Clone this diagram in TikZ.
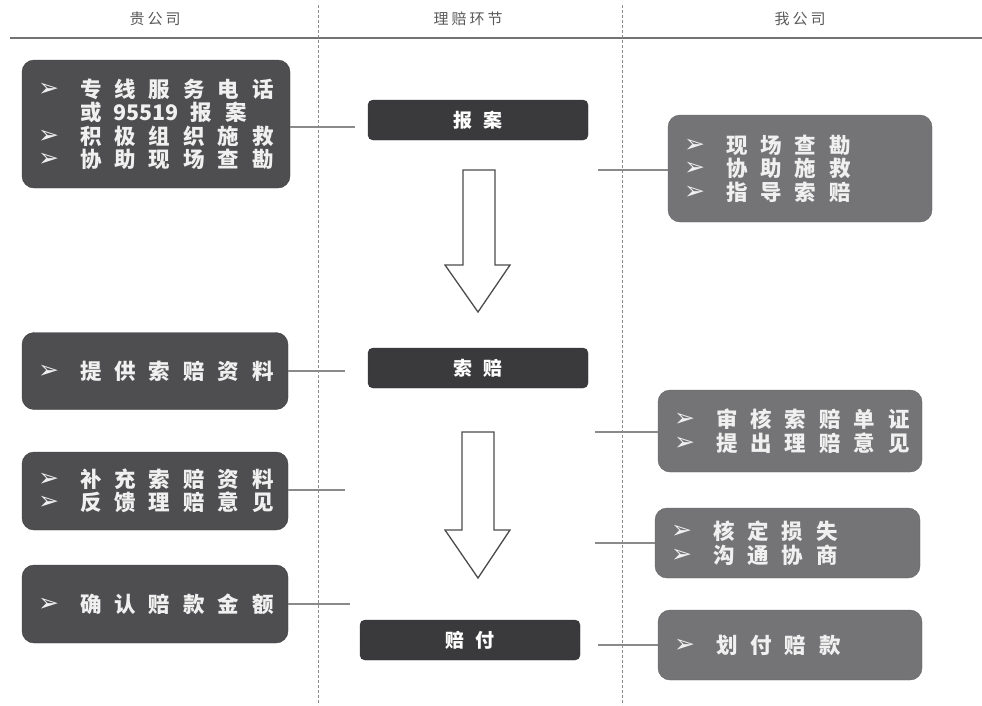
\documentclass[tikz,border=0pt]{standalone}
\usepackage{fontspec}
\newfontfamily\cjk[LetterSpace=60]{Noto Sans CJK SC}
\newfontfamily\cjkplain{Noto Sans CJK SC}
\newfontfamily\cjkhead[LetterSpace=20]{Noto Sans CJK SC}
\newfontfamily\symf{DejaVu Sans}
\definecolor{lboxc}{HTML}{4E4E50}
\definecolor{mboxc}{HTML}{3A3A3C}
\definecolor{rboxc}{HTML}{747476}
\definecolor{linec}{HTML}{8A8A8A}
\newcommand\itm[1]{\makebox[42pt][l]{\fontsize{25}{19}\selectfont\symf\mdseries\raisebox{1pt}{➢}}#1}
\newcommand\noitm[1]{\hspace*{42pt}#1}
\tikzset{
  box/.style={rounded corners=12pt, text=white!94!black, align=left,
    font=\cjk\bfseries\fontsize{21.5}{23.5}\selectfont, inner xsep=16pt, inner ysep=0pt},
  lbox/.style={box, fill=lboxc, draw=lboxc!80!black},
  rbox/.style={box, fill=rboxc, draw=rboxc!85!black},
  mbox/.style={rounded corners=5pt, fill=mboxc, draw=mboxc!80!black, text=white,
    font=\cjk\bfseries\fontsize{19}{21}\selectfont, align=center,
    minimum width=220pt, minimum height=40pt, inner sep=0pt},
  conn/.style={draw=linec, line width=1.1pt},
  vline/.style={draw=linec, line width=0.9pt, densely dashed},
  hollow/.style={draw=black!70, line width=1.3pt, fill=white, line join=miter},
  head/.style={text=black!65, font=\cjkhead\fontsize{15}{15}\selectfont}
}
\begin{document}
\begin{tikzpicture}[x=1pt,y=-1pt]
\useasboundingbox (0,0) rectangle (982,705);
% header
\node[head] (h1) at (155,19) {贵公司};
\node[head] (h2) at (468,19) {理赔环节};
\node[head] (h3) at (800,19) {我公司};
\draw[draw=black!55, line width=1.8pt] (10,38) -- (982,38);
\draw[vline] (318,5) -- (318,705);
\draw[vline] (622,5) -- (622,705);
% middle boxes
\node[mbox] (m1) at (478,120) {报案};
\node[mbox] (m2) at (478,368) {索赔};
\node[mbox] (m3) at (470,640) {赔付};
% hollow arrows
\draw[hollow] (463,170) -- (495,170) -- (495,265) -- (510,265) -- (478,312) -- (445,265) -- (463,265) -- cycle;
\draw[hollow] (462,432) -- (494,432) -- (494,530) -- (510,530) -- (478,578) -- (445,530) -- (462,530) -- cycle;
% left boxes
\node[lbox, text width=236pt, minimum height=128pt] (l1) at (156,124)
  {\itm{专线服务电话}\\ \noitm{或\hspace{12pt}{\cjkplain 95519}\hspace{12pt}报案}\\ \itm{积极组织施救}\\ \itm{协助现场查勘}};
\node[lbox, text width=234pt, minimum height=77pt] (l2) at (155,371)
  {\itm{提供索赔资料}};
\node[lbox, text width=234pt, minimum height=78pt] (l3) at (155,491)
  {\itm{补充索赔资料}\\ \itm{反馈理赔意见}};
\node[lbox, text width=234pt, minimum height=78pt] (l4) at (155,604)
  {\itm{确认赔款金额}};
% right boxes
\node[rbox, text width=232pt, minimum height=107pt] (r1) at (800,168.5)
  {\itm{现场查勘}\\ \itm{协助施救}\\ \itm{指导索赔}};
\node[rbox, text width=232pt, minimum height=82pt] (r2) at (790,431)
  {\itm{审核索赔单证}\\ \itm{提出理赔意见}};
\node[rbox, text width=233pt, minimum height=70pt] (r3) at (787.5,543)
  {\itm{核定损失}\\ \itm{沟通协商}};
\node[rbox, text width=232pt, minimum height=70pt] (r4) at (790,645)
  {\itm{划付赔款}};
% connector free ends
\coordinate (cl1) at (355,127);
\coordinate (cl2) at (345,371);
\coordinate (cl3) at (345,490);
\coordinate (cl4) at (350,604);
\coordinate (cr1) at (598,170);
\coordinate (cr2) at (595,432);
\coordinate (cr3) at (595,543);
\coordinate (cr4) at (598,645);
\draw[conn] (l1.east|-cl1) -- (cl1);
\draw[conn] (l2.east|-cl2) -- (cl2);
\draw[conn] (l3.east|-cl3) -- (cl3);
\draw[conn] (l4.east|-cl4) -- (cl4);
\draw[conn] (r1.west|-cr1) -- (cr1);
\draw[conn] (r2.west|-cr2) -- (cr2);
\draw[conn] (r3.west|-cr3) -- (cr3);
\draw[conn] (r4.west|-cr4) -- (cr4);
\end{tikzpicture}
\end{document}
